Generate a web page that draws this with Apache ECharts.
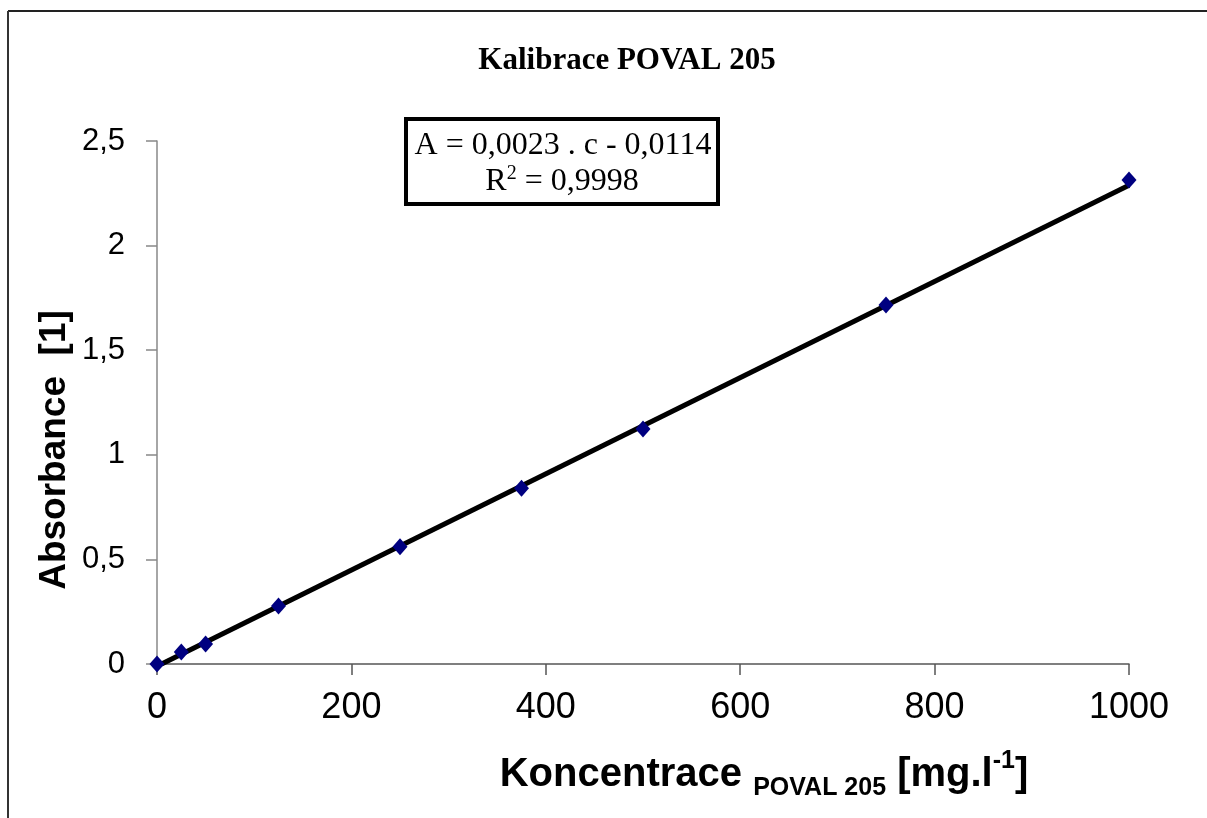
<!DOCTYPE html>
<html>
<head>
<meta charset="utf-8">
<script src="https://cdn.jsdelivr.net/npm/echarts@6/dist/echarts.min.js"></script>
<style>html,body{margin:0;padding:0;background:#fff}#c{width:1207px;height:818px}</style>
</head>
<body>
<div id="c"></div>
<script>
// Data
const concentrations = [0, 25, 50, 125, 250, 375, 500, 750, 1000];
const absorbances = [0, 0.057, 0.096, 0.277, 0.56, 0.84, 1.123, 1.716, 2.314];
const trendX = [0, 1000];
const trendY = [-0.011, 2.289];
const xTicks = [0, 200, 400, 600, 800, 1000];
const yTicks = [0, 0.5, 1, 1.5, 2, 2.5];

const chart = echarts.init(document.getElementById('c'));
const points = concentrations.map((c, i) => [c, absorbances[i]]);
const trend = trendX.map((x, i) => [x, trendY[i]]);

chart.setOption({
  animation: false,
  backgroundColor: '#fff',
  title: {
    text: 'Kalibrace POVAL 205',
    left: 622, top: 40, textAlign: 'center',
    textStyle: { fontFamily: 'Liberation Serif', fontWeight: 'bold', fontSize: 31, color: '#000' }
  },
  grid: { left: 157, right: 78, top: 141, bottom: 154, containLabel: false },
  xAxis: {
    type: 'value', min: xTicks[0], max: xTicks[xTicks.length - 1], interval: 200,
    axisLine: { lineStyle: { color: '#555', width: 1.5 } },
    axisTick: { show: true, inside: false, length: 11, lineStyle: { color: '#555', width: 1.5 } },
    axisLabel: { margin: 26, fontFamily: 'Liberation Sans', fontSize: 36, color: '#000',
      formatter: v => String(v) },
    splitLine: { show: false }
  },
  yAxis: {
    type: 'value', min: yTicks[0], max: yTicks[yTicks.length - 1], interval: 0.5,
    axisLine: { show: true, lineStyle: { color: '#888', width: 1.5 } },
    axisTick: { show: true, inside: false, length: 11, lineStyle: { color: '#888', width: 1.5 } },
    axisLabel: { margin: 32, fontFamily: 'Liberation Sans', fontSize: 31, color: '#000',
      formatter: v => String(v).replace('.', ',') },
    splitLine: { show: false }
  },
  series: [
    {
      type: 'line', data: trend, symbol: 'none', z: 2,
      lineStyle: { color: '#000', width: 5 }
    },
    {
      type: 'scatter', data: points, symbol: 'diamond', symbolSize: [15, 17], z: 3,
      itemStyle: { color: '#000080', opacity: 1 }
    }
  ],
  graphic: [
    { type: 'line', shape: { x1: 8, y1: 11, x2: 1207, y2: 11 }, style: { stroke: '#222', lineWidth: 2 } },
    { type: 'line', shape: { x1: 8, y1: 11, x2: 8, y2: 818 }, style: { stroke: '#333', lineWidth: 2 } },
    { type: 'rect', shape: { x: 406, y: 119, width: 312, height: 85 },
      style: { fill: '#fff', stroke: '#000', lineWidth: 4 }, z: 10 },
    { type: 'text', x: 563, y: 146, z: 11,
      style: { text: 'A = 0,0023 . c - 0,0114', fontFamily: 'Liberation Serif', fontSize: 32,
        fill: '#000', align: 'center', verticalAlign: 'middle' } },
    { type: 'text', x: 562, y: 181, z: 11,
      style: { text: '{n|R}{s|2}{n| = 0,9998}', align: 'center', verticalAlign: 'middle',
        rich: {
          n: { fontFamily: 'Liberation Serif', fontSize: 32, fill: '#000', verticalAlign: 'bottom', lineHeight: 34 },
          s: { fontFamily: 'Liberation Serif', fontSize: 20, fill: '#000', verticalAlign: 'top', lineHeight: 34 }
        } } },
    { type: 'text', x: 55, y: 450, rotation: Math.PI / 2,
      style: { text: 'Absorbance  [1]', fontFamily: 'Liberation Sans', fontWeight: 'bold', fontSize: 37,
        fill: '#000', align: 'center', verticalAlign: 'middle' } },
    { type: 'text', x: 764, y: 775,
      style: { text: '{b|Koncentrace }{sub|POVAL 205}{b| [mg.l}{sup|-1}{b|]}', align: 'center', verticalAlign: 'middle',
        rich: {
          b: { fontFamily: 'Liberation Sans', fontWeight: 'bold', fontSize: 40, fill: '#000', verticalAlign: 'middle', lineHeight: 52 },
          sub: { fontFamily: 'Liberation Sans', fontWeight: 'bold', fontSize: 25, fill: '#000', verticalAlign: 'bottom', lineHeight: 52 },
          sup: { fontFamily: 'Liberation Sans', fontWeight: 'bold', fontSize: 25, fill: '#000', verticalAlign: 'top', lineHeight: 52 }
        } } }
  ]
});
</script>
</body>
</html>
